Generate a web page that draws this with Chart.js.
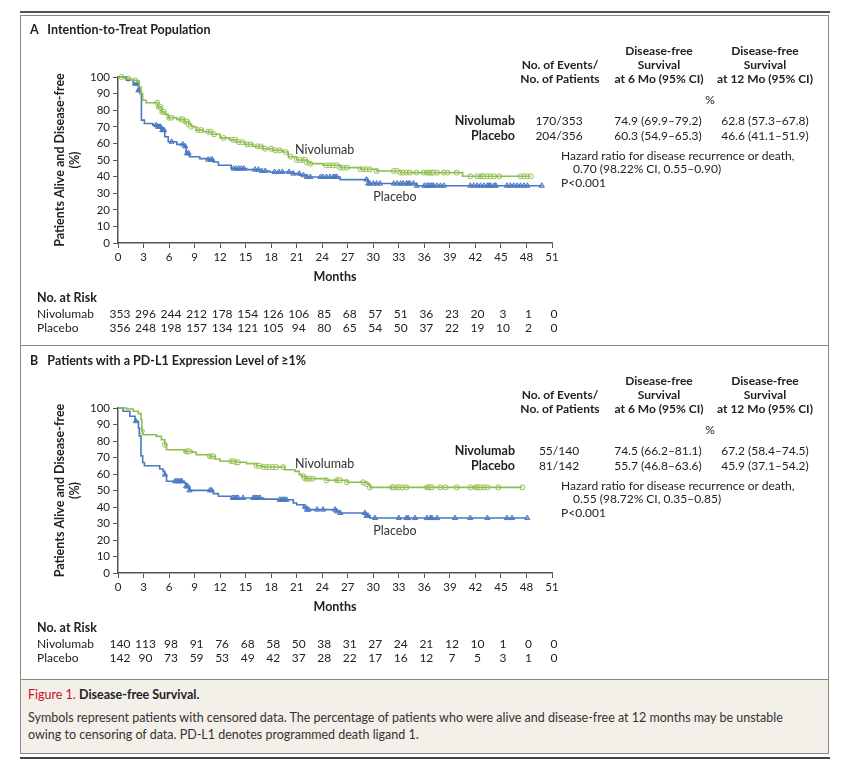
<!DOCTYPE html>
<html>
<head>
<meta charset="utf-8">
<script src="https://cdn.jsdelivr.net/npm/chart.js@4.4.0/dist/chart.umd.min.js"></script>
<style>
  body { margin: 0; background: #fff; font-family: Lato, "Noto Sans", sans-serif; color: #222; }
  #page { position: relative; width: 850px; height: 774px; overflow: hidden; }
  .abs { position: absolute; white-space: nowrap; }
  .hd { font-weight: bold; font-size: 12px; line-height: 14px; text-align: center; }
  .val { font-size: 12px; line-height: 14px; text-align: center; }
  .lbl { font-weight: bold; font-size: 12.5px; line-height: 14px; text-align: right; }
  .ttl { font-weight: bold; font-size: 12.5px; }
  canvas { position: absolute; }
</style>
</head>
<body>
<div id="page">
  <div class="abs" style="left:20px;top:11px;width:810px;height:2px;background:#555"></div>
  <div class="abs" style="left:20px;top:15px;width:809px;height:739px;box-sizing:border-box;border:1px solid #8a8a8a"></div>
  <div class="abs" style="left:20px;top:345px;width:809px;height:1px;background:#8a8a8a"></div>
  <div class="abs" style="left:20px;top:679px;width:809px;height:75px;box-sizing:border-box;background:#f3f0e9;border:1px solid #8a8a8a"></div>
  <div class="abs" style="left:20px;top:757px;width:810px;height:2px;background:#444"></div>

  <canvas id="chartA" width="808" height="328" style="left:20px;top:16px"></canvas>
  <canvas id="chartB" width="808" height="330" style="left:20px;top:346px"></canvas>

  <div class="abs ttl" style="left:30px;top:22px">A&nbsp;&nbsp;&nbsp;Intention-to-Treat Population</div>
  <div class="abs ttl" style="left:30px;top:353px">B&nbsp;&nbsp;&nbsp;Patients with a PD-L1 Expression Level of ≥1%</div>

  <div id="tables"></div>

  <div class="abs" style="left:28px;top:687px;font-size:12.5px"><span style="color:#c8102e">Figure 1.</span> <b>Disease-free Survival.</b></div>
  <div class="abs" style="left:28px;top:709px;font-size:12.5px;line-height:17px;color:#333">Symbols represent patients with censored data. The percentage of patients who were alive and disease-free at 12 months may be unstable<br>owing to censoring of data. PD-L1 denotes programmed death ligand 1.</div>
</div>
<script>
const GREEN = '#8fbf4f';
const BLUE = '#4a78c2';

// x-axis ticks / at-risk months
const riskMonths = [0, 3, 6, 9, 12, 15, 18, 21, 24, 27, 30, 33, 36, 39, 42, 45, 48, 51];

// Panel A - intention-to-treat
const aNivoTime = [0, 0.8, 1.5, 2.2, 2.5, 2.7, 2.9, 3.3, 4.7, 5.1, 5.5, 5.9, 6.9, 7.8, 8.3, 8.6, 9.2, 10.0, 11.0, 12.0, 13.1, 13.9, 14.9, 15.9, 17.0, 18.2, 19.4, 20.0, 21.0, 22.2, 22.6, 24.1, 26.1, 28.5, 30.4, 33.2, 40.5, 48.5];
const aNivoSurv = [100, 99, 98, 97.5, 94, 90, 86, 84.5, 82, 79, 77.5, 75.5, 74.5, 73.2, 71.5, 70, 68, 67, 65.5, 63.3, 62.2, 60.8, 59.4, 58.2, 56.8, 55.8, 54.8, 52, 50, 48.5, 47.8, 46.8, 45.4, 44.4, 43.4, 42.4, 40.2, 40.2];
const aPlacTime = [0, 1.0, 1.8, 2.4, 2.6, 2.75, 3.1, 4.1, 4.7, 5.1, 5.5, 5.9, 6.9, 7.8, 8.0, 8.4, 9.6, 10.6, 11.2, 11.8, 13.3, 15.1, 16.7, 17.8, 20.6, 21.4, 22.2, 26.1, 29.4, 35.1, 49.8];
const aPlacSurv = [100, 98, 96, 92, 90, 74, 72, 71, 70, 68, 64, 61, 59.4, 58.2, 54, 52, 50.8, 50.2, 48.8, 46.8, 44.8, 44.2, 43.4, 42.8, 41.8, 40.8, 39.8, 38.2, 35.8, 34.5, 34.5];
const aNivoCensor = [0.4, 1.2, 2.0, 4.6, 4.8, 5.0, 5.2, 5.4, 6.0, 6.3, 7.4, 7.6, 7.9, 8.1, 8.3, 8.6, 9.4, 9.8, 10.6, 10.9, 11.3, 12.4, 13.5, 13.8, 14.2, 14.6, 15.2, 15.6, 16.4, 16.8, 17.3, 18.0, 18.5, 19.0, 19.7, 20.3, 21.0, 21.4, 21.8, 22.0, 22.2, 22.6, 24.5, 24.9, 25.3, 25.7, 26.1, 26.5, 26.9, 28.5, 28.9, 29.2, 29.6, 30.4, 32.4, 32.8, 33.2, 33.5, 33.9, 34.3, 35.1, 35.9, 36.3, 36.5, 36.7, 36.9, 37.1, 37.5, 38.3, 38.7, 39.8, 41.4, 42.2, 42.6, 42.8, 43.0, 43.4, 43.8, 44.2, 44.8, 47.3, 47.7, 48.1, 48.5];
const aPlacCensor = [2.0, 2.2, 2.4, 2.5, 4.5, 4.7, 4.9, 5.0, 5.2, 5.3, 5.4, 6.3, 7.6, 7.9, 8.1, 8.3, 10.6, 10.9, 11.1, 13.6, 13.9, 14.2, 14.5, 14.8, 16.1, 16.5, 16.9, 17.3, 18.4, 18.9, 19.3, 20.1, 20.6, 21.3, 21.8, 22.2, 22.6, 23.8, 24.1, 24.5, 24.9, 25.3, 25.5, 25.7, 29.2, 29.4, 29.6, 30.0, 30.4, 30.8, 32.4, 32.8, 33.2, 33.5, 33.9, 34.1, 34.3, 34.7, 35.1, 36.0, 36.3, 36.5, 36.7, 36.9, 37.1, 37.5, 37.9, 38.3, 41.4, 41.8, 42.2, 42.6, 43.0, 43.4, 43.6, 43.8, 44.2, 44.4, 45.7, 46.1, 46.5, 46.9, 47.3, 47.7, 48.1, 49.8];
const aNivoRisk = [353, 296, 244, 212, 178, 154, 126, 106, 85, 68, 57, 51, 36, 23, 20, 3, 1, 0];
const aPlacRisk = [356, 248, 198, 157, 134, 121, 105, 94, 80, 65, 54, 50, 37, 22, 19, 10, 2, 0];

// Panel B - PD-L1 >= 1%
const bNivoTime = [0, 1.0, 1.8, 2.4, 2.7, 2.8, 2.9, 4.5, 5.1, 5.5, 5.7, 7.8, 8.8, 9.2, 10.8, 11.4, 12.0, 13.9, 15.1, 16.3, 17.0, 19.6, 20.8, 21.3, 21.6, 22.0, 24.5, 26.9, 29.2, 29.6, 47.5];
const bNivoSurv = [100, 99.4, 98, 96.6, 93, 86, 83.8, 82.8, 80.8, 77.8, 74.7, 73.7, 73.1, 71.7, 70.7, 69.1, 67.7, 67.1, 66.3, 65, 64.2, 62.6, 61.6, 59.6, 58.6, 57.2, 56.2, 55, 53.9, 51.9, 51.9];
const bPlacTime = [0, 0.6, 1.4, 2.0, 2.4, 2.5, 2.7, 2.9, 3.1, 4.9, 5.3, 5.5, 5.7, 7.8, 8.0, 8.4, 11.2, 11.8, 13.3, 17.1, 18.8, 20.6, 21.0, 21.8, 22.2, 25.7, 26.1, 29.2, 29.6, 48.1];
const bPlacSurv = [100, 98, 95, 92, 88, 83, 71, 67, 65, 63, 61.6, 59.6, 55.6, 54.5, 52.5, 50.1, 48.1, 46.5, 45.5, 44.8, 44.4, 42.4, 41.4, 40, 38.4, 37.4, 36.4, 34.7, 33.3, 33.3];
const bNivoCensor = [2.8, 5.5, 8.0, 8.2, 8.4, 10.8, 11.0, 11.2, 13.3, 13.6, 13.9, 14.1, 16.3, 16.6, 17.1, 17.5, 17.8, 18.2, 18.6, 19.4, 21.8, 22.0, 22.2, 22.4, 22.6, 22.9, 24.5, 25.7, 25.9, 26.1, 26.9, 28.8, 29.2, 29.6, 32.2, 32.4, 32.8, 33.0, 33.4, 33.9, 36.3, 36.5, 36.7, 36.9, 37.9, 38.5, 39.8, 41.4, 42.0, 42.2, 42.4, 42.6, 43.0, 43.4, 44.7, 47.5];
const bPlacCensor = [2.1, 5.5, 6.7, 6.9, 7.1, 7.3, 7.5, 8.0, 8.2, 8.4, 10.8, 11.0, 13.5, 13.7, 13.9, 14.1, 14.7, 15.9, 16.1, 16.3, 16.5, 16.7, 19.0, 19.2, 19.4, 19.6, 19.8, 22.0, 22.2, 22.4, 23.4, 24.1, 25.5, 25.7, 26.1, 29.0, 29.2, 29.4, 30.2, 33.0, 33.9, 34.1, 34.9, 36.3, 36.7, 36.9, 37.5, 39.6, 41.4, 43.4, 45.7, 46.3, 48.1];
const bNivoRisk = [140, 113, 98, 91, 76, 68, 58, 50, 38, 31, 27, 24, 21, 12, 10, 1, 0, 0];
const bPlacRisk = [142, 90, 73, 59, 53, 49, 42, 37, 28, 22, 17, 16, 12, 7, 5, 3, 1, 0];

// summary tables
const tableA = {
  events: ['170/353', '204/356'],
  six: ['74.9 (69.9–79.2)', '60.3 (54.9–65.3)'],
  twelve: ['62.8 (57.3–67.8)', '46.6 (41.1–51.9)'],
  hr: ['Hazard ratio for disease recurrence or death,', '0.70 (98.22% CI, 0.55–0.90)', 'P<0.001']
};
const tableB = {
  events: ['55/140', '81/142'],
  six: ['74.5 (66.2–81.1)', '55.7 (46.8–63.6)'],
  twelve: ['67.2 (58.4–74.5)', '45.9 (37.1–54.2)'],
  hr: ['Hazard ratio for disease recurrence or death,', '0.55 (98.72% CI, 0.35–0.85)', 'P<0.001']
};

function kmPoints(t, s) {
  return t.map((x, i) => ({ x: x, y: s[i] }));
}
// survival value on the step curve at month m (for placing censor marks)
function survAt(t, s, m) {
  let v = s[0];
  for (let i = 0; i < t.length; i++) if (t[i] <= m) v = s[i];
  return v;
}

function buildTable(tb, dy) {
  const el = document.getElementById('tables');
  let h = '';
  h += `<div class="abs hd" style="left:500px;width:120px;top:${58 + dy}px">No. of Events/<br>No. of Patients</div>`;
  h += `<div class="abs hd" style="left:599px;width:120px;top:${44 + dy}px">Disease-free<br>Survival<br>at 6 Mo (95% CI)</div>`;
  h += `<div class="abs hd" style="left:705px;width:120px;top:${44 + dy}px">Disease-free<br>Survival<br>at 12 Mo (95% CI)</div>`;
  h += `<div class="abs val" style="left:690px;width:40px;top:${93 + dy}px">%</div>`;
  const names = ['Nivolumab', 'Placebo'];
  for (let r = 0; r < 2; r++) {
    const top = 114 + r * 15 + dy;
    h += `<div class="abs lbl" style="left:415px;width:100px;top:${top}px">${names[r]}</div>`;
    h += `<div class="abs val" style="left:509px;width:100px;top:${top}px">${tb.events[r]}</div>`;
    h += `<div class="abs val" style="left:598px;width:120px;top:${top}px">${tb.six[r]}</div>`;
    h += `<div class="abs val" style="left:705px;width:120px;top:${top}px">${tb.twelve[r]}</div>`;
  }
  h += `<div class="abs val" style="left:561px;top:${149 + dy}px;text-align:left">${tb.hr[0]}</div>`;
  h += `<div class="abs val" style="left:573px;top:${162 + dy}px;text-align:left">${tb.hr[1]}</div>`;
  h += `<div class="abs val" style="left:561px;top:${176 + dy}px;text-align:left">${tb.hr[2]}</div>`;
  el.innerHTML += h;
}
buildTable(tableA, 0);
buildTable(tableB, 330);

Chart.defaults.font.family = 'Lato, "Noto Sans", sans-serif';
Chart.defaults.color = '#222';

const riskPlugin = {
  id: 'riskTable',
  afterDraw(chart) {
    const o = chart.options.plugins.riskTable;
    const ctx = chart.ctx;
    const xs = chart.scales.x, ys = chart.scales.y;
    const base = chart.chartArea.bottom;
    ctx.save();
    ctx.fillStyle = '#333';
    ctx.textBaseline = 'middle';
    // curve labels
    ctx.font = '12.5px Lato, "Noto Sans", sans-serif';
    ctx.textAlign = 'left';
    o.labels.forEach(l => ctx.fillText(l.text, xs.getPixelForValue(l.x), ys.getPixelForValue(l.y)));
    // at-risk table
    ctx.fillStyle = '#222';
    ctx.font = 'bold 12.5px Lato, "Noto Sans", sans-serif';
    ctx.fillText('No. at Risk', 17, base + 55);
    ctx.font = '12px Lato, "Noto Sans", sans-serif';
    ctx.fillText('Nivolumab', 17, base + 71);
    ctx.fillText('Placebo', 17, base + 85);
    ctx.textAlign = 'center';
    riskMonths.forEach((m, i) => {
      const x = xs.getPixelForValue(m) + 2;
      ctx.fillText(String(o.nivo[i]), x, base + 71);
      ctx.fillText(String(o.plac[i]), x, base + 85);
    });
    ctx.restore();
  }
};

function makeChart(id, p) {
  return new Chart(document.getElementById(id), {
    type: 'line',
    data: {
      datasets: [
        { data: kmPoints(p.nt, p.ns), borderColor: GREEN, borderWidth: 1.6, stepped: true, pointRadius: 0, fill: false, clip: 6 },
        { data: kmPoints(p.pt, p.ps), borderColor: BLUE, borderWidth: 1.6, stepped: true, pointRadius: 0, fill: false, clip: 6 },
        { type: 'scatter', data: p.nc.map(m => ({ x: m, y: survAt(p.nt, p.ns, m) })), pointStyle: 'circle', pointRadius: 2.5, borderWidth: 1, borderColor: GREEN, backgroundColor: '#fff', clip: 6 },
        { type: 'scatter', data: p.pc.map(m => ({ x: m, y: survAt(p.pt, p.ps, m) })), pointStyle: 'triangle', pointRadius: 3, borderWidth: 1, borderColor: BLUE, backgroundColor: 'rgba(74,120,194,0.45)', clip: 6 }
      ]
    },
    options: {
      responsive: false,
      devicePixelRatio: 1,
      animation: false,
      events: [],
      layout: { padding: { left: 28, top: p.top, right: 276, bottom: p.bottom } },
      plugins: {
        legend: { display: false },
        tooltip: { enabled: false },
        riskTable: { nivo: p.nr, plac: p.pr, labels: p.labels }
      },
      scales: {
        x: {
          type: 'linear', min: 0, max: 51,
          ticks: { stepSize: 3, autoSkip: false, maxRotation: 0, padding: 2, font: { size: 11.5 }, color: '#222' },
          grid: { drawOnChartArea: false, drawTicks: true, tickLength: 5, color: '#555' },
          border: { color: '#555', width: 1.5 },
          title: { display: true, text: 'Months', font: { size: 12.5, weight: 'bold' }, color: '#222', padding: { top: 4, bottom: 4 } },
          afterFit(s) { s.height = 45; }
        },
        y: {
          min: 0, max: 100,
          ticks: { stepSize: 10, autoSkip: false, padding: 3, font: { size: 11.5 }, color: '#222' },
          grid: { drawOnChartArea: false, drawTicks: true, tickLength: 5, color: '#555' },
          border: { color: '#555', width: 1.5 },
          title: { display: true, text: ['Patients Alive and Disease-free', '(%)'], font: { size: 12.5, weight: 'bold', lineHeight: 1.25 }, color: '#222', padding: { top: 4, bottom: 4 } },
          afterFit(s) { s.width = 70; }
        }
      }
    },
    plugins: [riskPlugin]
  });
}

makeChart('chartA', {
  nt: aNivoTime, ns: aNivoSurv, pt: aPlacTime, ps: aPlacSurv, nc: aNivoCensor, pc: aPlacCensor,
  nr: aNivoRisk, pr: aPlacRisk, top: 61, bottom: 56,
  labels: [{ text: 'Nivolumab', x: 20.8, y: 56 }, { text: 'Placebo', x: 30, y: 27.7 }]
});
makeChart('chartB', {
  nt: bNivoTime, ns: bNivoSurv, pt: bPlacTime, ps: bPlacSurv, nc: bNivoCensor, pc: bPlacCensor,
  nr: bNivoRisk, pr: bPlacRisk, top: 62, bottom: 58,
  labels: [{ text: 'Nivolumab', x: 20.8, y: 66 }, { text: 'Placebo', x: 30, y: 25.5 }]
});
</script>
</body>
</html>
